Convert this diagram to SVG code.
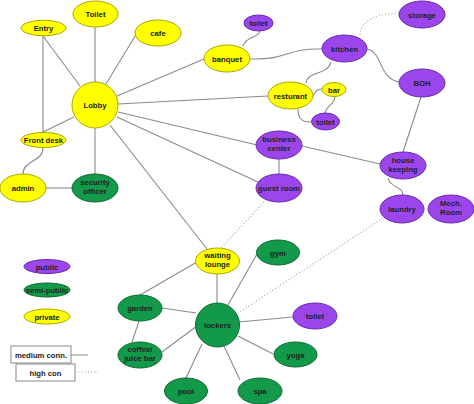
<svg xmlns="http://www.w3.org/2000/svg" width="474" height="404" viewBox="0 0 474 404">
<style>
.y{fill:#ffff00;stroke:#a8a800;stroke-width:1}
.p{fill:#9b45ec;stroke:#6a2aa8;stroke-width:1}
.g{fill:#13994a;stroke:#0b6a32;stroke-width:1}
text{font-family:"Liberation Sans",Arial,sans-serif;font-size:7.7px;font-weight:bold;fill:#222;text-anchor:middle}
.c path,.c line{stroke:#8a8a8a;stroke-width:1.1;fill:none}
.c .d{stroke:#b0b0b0;stroke-dasharray:1.2 2}
.box{fill:#fff;stroke:#8a8a8a;stroke-width:1}
</style>
<rect width="474" height="404" fill="#fff"/>
<g class="c" id="connectors">
<line x1="43" y1="36" x2="80" y2="86"/>
<line x1="43" y1="36" x2="43" y2="133"/>
<line x1="95" y1="27" x2="95" y2="82"/>
<line x1="137" y1="33" x2="106" y2="84"/>
<line x1="204" y1="59" x2="117" y2="96"/>
<line x1="118" y1="104" x2="268" y2="96"/>
<line x1="118" y1="112" x2="257" y2="145"/>
<line x1="117" y1="117" x2="258" y2="182"/>
<line x1="110" y1="125" x2="207" y2="249"/>
<line x1="74" y1="117" x2="43" y2="132"/>
<line x1="95" y1="128" x2="95" y2="174"/>
<path d="M43,148 C43,162 23,160 23,174"/>
<line x1="46" y1="188" x2="72" y2="188"/>
<path d="M243,46 C246,36 259,38 260,31"/>
<path d="M250,59 C290,60 285,48 322,49"/>
<path d="M331,62 C327,76 308,70 306,83"/>
<path d="M367,49 C383,52 378,78 399,82"/>
<path class="d" d="M360,35 C360,18 385,12 399,14"/>
<path d="M313,96 C316,90 318,89 322,89"/>
<path d="M298,109 C298,120 303,122 311,122"/>
<path d="M335,97 C334,106 325,106 325,114"/>
<line x1="279" y1="159" x2="279" y2="174"/>
<line x1="302" y1="146" x2="380" y2="164"/>
<line x1="421" y1="97" x2="403" y2="152"/>
<path d="M388,178 C390,188 403,186 403,195"/>
<line class="d" x1="264" y1="202" x2="221" y2="248"/>
<line class="d" x1="383" y1="218" x2="238" y2="313"/>
<line x1="197" y1="262" x2="140" y2="295"/>
<line x1="217" y1="274" x2="217" y2="303"/>
<line x1="162" y1="308" x2="196" y2="313"/>
<line x1="139" y1="321" x2="132" y2="342"/>
<line x1="162" y1="352" x2="197" y2="326"/>
<line x1="202" y1="344" x2="186" y2="378"/>
<line x1="224" y1="346" x2="240" y2="380"/>
<line x1="238" y1="336" x2="273" y2="354"/>
<line x1="239" y1="322" x2="293" y2="317"/>
<line x1="228" y1="305" x2="257" y2="254"/>
</g>
<g id="toilet1"><ellipse class="y" cx="95.5" cy="14" rx="22.5" ry="13"/><text x="95.5" y="17">Toilet</text></g>
<g id="entry"><ellipse class="y" cx="43.5" cy="28" rx="22.5" ry="7.7"/><text x="43.5" y="31">Entry</text></g>
<g id="cafe"><ellipse class="y" cx="158" cy="33" rx="23" ry="13"/><text x="158" y="36">cafe</text></g>
<g id="banquet"><ellipse class="y" cx="227" cy="58.5" rx="23" ry="13.5"/><text x="227" y="61.5">banquet</text></g>
<g id="lobby"><circle class="y" cx="95" cy="105" r="23"/><text x="95" y="108">Lobby</text></g>
<g id="frontdesk"><ellipse class="y" cx="43.5" cy="140" rx="22.5" ry="7.5"/><text x="43.5" y="143">Front desk</text></g>
<g id="admin"><ellipse class="y" cx="23" cy="188" rx="23" ry="14"/><text x="23" y="191">admin</text></g>
<g id="security"><ellipse class="g" cx="95" cy="188" rx="23" ry="14"/><text x="95" y="185">security</text><text x="95" y="194">officer</text></g>
<g id="toilet2"><ellipse class="p" cx="258.5" cy="23" rx="14.5" ry="8"/><text x="258.5" y="26">toilet</text></g>
<g id="kitchen"><ellipse class="p" cx="344.5" cy="48.5" rx="22.5" ry="13.5"/><text x="344.5" y="51.5">kitchen</text></g>
<g id="storage"><ellipse class="p" cx="422" cy="14.5" rx="23" ry="13.5"/><text x="422" y="17.5">storage</text></g>
<g id="boh"><ellipse class="p" cx="422" cy="83" rx="23" ry="14"/><text x="422" y="86">BOH</text></g>
<g id="resturant"><ellipse class="y" cx="290.5" cy="95.5" rx="22.5" ry="13.5"/><text x="290.5" y="98.5">resturant</text></g>
<g id="bar"><ellipse class="y" cx="334" cy="89.5" rx="12" ry="7"/><text x="334" y="92.5">bar</text></g>
<g id="toilet3"><ellipse class="p" cx="325.5" cy="121.5" rx="14" ry="8.5"/><text x="325.5" y="124.5">toilet</text></g>
<g id="business"><ellipse class="p" cx="279" cy="145" rx="23" ry="14"/><text x="279" y="142">business</text><text x="279" y="151">center</text></g>
<g id="guestroom"><ellipse class="p" cx="279" cy="188" rx="23" ry="14"/><text x="279" y="191">guest room</text></g>
<g id="housekeeping"><ellipse class="p" cx="403" cy="165.5" rx="23" ry="13.5"/><text x="403" y="162.5">house</text><text x="403" y="171.5">keeping</text></g>
<g id="laundry"><ellipse class="p" cx="402" cy="209" rx="22" ry="14"/><text x="402" y="212">laundry</text></g>
<g id="mech"><ellipse class="p" cx="451" cy="209" rx="23" ry="14"/><text x="451" y="206">Mech.</text><text x="451" y="215">Room</text></g>
<g id="waiting"><ellipse class="y" cx="217.5" cy="261" rx="22" ry="13"/><text x="217.5" y="258">waiting</text><text x="217.5" y="267">lounge</text></g>
<g id="gym"><ellipse class="g" cx="278" cy="252.5" rx="21.5" ry="12.5"/><text x="278" y="255.5">gym</text></g>
<g id="garden"><ellipse class="g" cx="140" cy="308" rx="22" ry="13"/><text x="140" y="311">garden</text></g>
<g id="lockers"><circle class="g" cx="217.5" cy="325" r="22"/><text x="217.5" y="328">lockers</text></g>
<g id="toilet4"><ellipse class="p" cx="315" cy="316" rx="22" ry="13"/><text x="315" y="319">toilet</text></g>
<g id="coffee"><ellipse class="g" cx="140" cy="355" rx="22" ry="13"/><text x="140" y="352">coffee/</text><text x="140" y="361">juice bar</text></g>
<g id="yoga"><ellipse class="g" cx="295.5" cy="354.5" rx="21.5" ry="12.5"/><text x="295.5" y="357.5">yoga</text></g>
<g id="pool"><ellipse class="g" cx="186" cy="391" rx="21.5" ry="13"/><text x="186" y="394">pool</text></g>
<g id="spa"><ellipse class="g" cx="260" cy="391" rx="22" ry="13"/><text x="260" y="394">spa</text></g>
<g id="legend">
<ellipse class="p" cx="47" cy="266.5" rx="23" ry="7"/><text x="47" y="269.5">public</text>
<ellipse class="g" cx="47" cy="290" rx="23" ry="7"/><text x="47" y="293">semi-public</text>
<ellipse class="y" cx="47" cy="316.5" rx="23" ry="7.5"/><text x="47" y="319.5">private</text>
<rect class="box" x="11" y="346" width="60" height="17"/><text x="41" y="357.5">medium conn.</text>
<line x1="71" y1="355" x2="88" y2="355" stroke="#8a8a8a" stroke-width="1"/>
<rect class="box" x="16" y="364" width="59" height="17"/><text x="45.5" y="375.5">high con</text>
<line x1="75" y1="372" x2="98" y2="372" stroke="#b0b0b0" stroke-width="1" stroke-dasharray="1.2 2"/>
</g>
</svg>
